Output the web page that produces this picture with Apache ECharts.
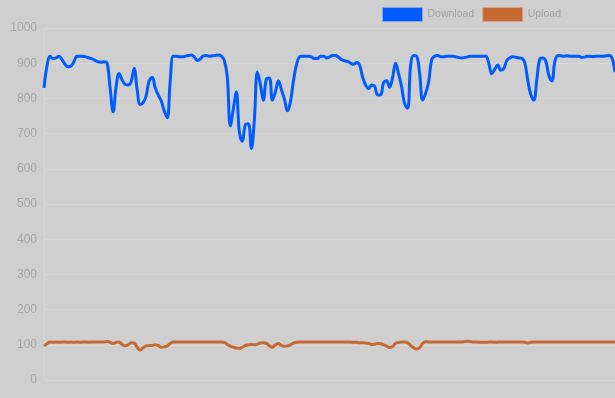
<!DOCTYPE html>
<html>
<head>
<meta charset="utf-8">
<script src="https://cdn.jsdelivr.net/npm/echarts@6/dist/echarts.min.js"></script>
<style>
html,body{margin:0;padding:0;background:#cfcfcf;}
#c{width:615px;height:398px;}
</style>
</head>
<body>
<div id="c"></div>
<script>
var yTicks = [0,100,200,300,400,500,600,700,800,900,1000];
var download = [
830,893,920,913,915,920,910,897,890,892,
905,920,920,919,918,915,912,908,904,903,
904,900,830,762,833,871,852,840,838,848,
885,825,783,788,808,850,860,830,810,793,
765,745,850,920,920,918,918,920,922,923,
918,908,912,921,922,920,921,922,923,920,
908,860,722,770,818,705,678,725,728,658,
740,875,840,795,855,858,795,818,850,825,
798,765,790,850,895,918,920,920,920,918,
913,913,920,920,915,918,922,922,917,910,
907,905,900,897,902,895,861,838,828,838,
835,810,810,845,850,832,860,900,870,833,
785,772,895,922,920,870,795,815,848,910,
920,922,918,918,920,920,920,918,916,915,
916,918,920,920,920,920,920,920,900,870,
883,895,880,885,908,915,918,917,915,914,
900,850,810,795,855,912,915,905,865,850,
905,922,921,920,921,920,920,920,920,916,
918,920,919,919,920,920,920,921,922,915,
875
];
var upload = [
97,103,108,107,108,107,108,108,107,108,
107,108,107,108,108,107,108,108,108,108,
108,110,107,104,107,108,101,97,100,106,
105,93,85,92,97,98,98,100,98,93,
94,97,104,108,108,108,108,108,108,108,
108,108,108,108,108,108,108,108,108,108,
107,101,96,93,91,90,93,98,100,101,
100,102,105,106,104,97,93,100,104,98,
96,97,100,105,107,108,108,108,108,108,
108,108,108,108,108,108,108,108,108,108,
108,108,108,107,107,106,106,105,104,101,
102,104,103,100,96,92,95,104,107,108,
108,106,98,92,88,92,104,109,108,108,
108,108,108,108,108,108,108,108,108,108,
109,110,109,108,108,107,107,107,108,108,
107,108,108,108,108,108,108,108,108,108,
107,105,107,108,108,108,108,108,108,108,
108,108,108,108,108,108,108,108,108,108,
108,108,108,108,108,108,108,108,108,108,
108
];
var labels = download.map(function(_, i){ return i; });

var chart = echarts.init(document.getElementById('c'), null, {renderer:'canvas'});
chart.setOption({
  backgroundColor: '#cfcfcf',
  animation: false,
  legend: {
    top: 2,
    left: 377,
    itemWidth: 40,
    itemHeight: 14,
    itemGap: 8,
    icon: 'rect',
    textStyle: { color: '#a3a3a3', fontSize: 10.5, fontFamily: 'Liberation Sans, Arial, sans-serif' },
    data: [
      { name: 'Download', itemStyle: { color: '#005cff', borderColor: '#8aa6e8', borderWidth: 1 } },
      { name: 'Upload', itemStyle: { color: '#c46a32', borderColor: '#d9a587', borderWidth: 1 } }
    ]
  },
  grid: { left: 44, right: 0, top: 28, bottom: 18 },
  xAxis: {
    type: 'category',
    data: labels,
    boundaryGap: false,
    axisLine: { show: false },
    axisTick: { show: false },
    axisLabel: { show: false },
    splitLine: { show: false }
  },
  yAxis: {
    type: 'value',
    min: 0,
    max: 1000,
    interval: 100,
    axisLine: { show: true, lineStyle: { color: '#d6d6d6', width: 1 } },
    axisTick: { show: false },
    axisLabel: { color: '#a6a6a6', fontSize: 12, margin: 7, fontFamily: 'Liberation Sans, Arial, sans-serif',
      formatter: function(v){ return String(v); } },
    splitLine: { show: true, lineStyle: { color: '#d7d7d7', width: 1 } }
  },
  series: [
    {
      name: 'Download', type: 'line', data: download, smooth: 0.4, showSymbol: false,
      lineStyle: { color: '#005cff', width: 3 }, itemStyle: { color: '#005cff' }
    },
    {
      name: 'Upload', type: 'line', data: upload, smooth: 0.4, showSymbol: false,
      lineStyle: { color: '#c46a32', width: 3 }, itemStyle: { color: '#c46a32' }
    }
  ]
});
</script>
</body>
</html>
